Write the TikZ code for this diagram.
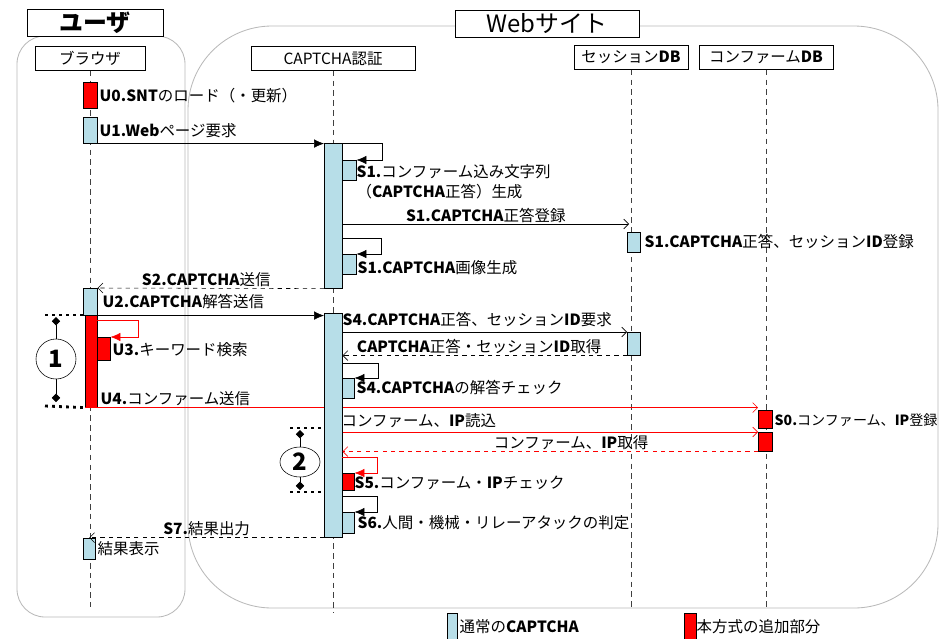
\documentclass[tikz,border=0pt]{standalone}
\usepackage{fontspec}
\setmainfont{Noto Sans CJK JP}
\usetikzlibrary{arrows.meta}
\usetikzlibrary{shapes.geometric}
\definecolor{capblue}{RGB}{183,222,232}

\begin{document}
\begin{tikzpicture}[x=0.025cm,y=-0.025cm,>={Latex[length=7pt,width=6pt]},
    every node/.style={font=\fontsize{11}{14}\selectfont},
    frame/.style={draw=gray!55,line width=0.6pt},
    title/.style={draw,fill=white,inner sep=0pt,minimum height=0.675cm,font=\fontsize{17}{20}\selectfont},
    head/.style={draw,fill=white,inner sep=0pt,minimum height=0.6cm},
    life/.style={dash pattern=on 4pt off 3pt,black!75},
    bar/.style={draw,fill=capblue,anchor=north west,inner sep=0pt,minimum width=0.35cm},
    addbar/.style={bar,fill=red},
    lbl/.style={anchor=west,inner sep=1pt},
    async/.style={-{Straight Barb[length=3.5pt,width=7pt]}},
    ret/.style={async,dashed},
    dotline/.style={line width=2pt,dash pattern=on 2pt off 3pt},
    tick/.style={{Diamond[length=6pt,width=6pt]}-},
    num/.style={draw,fill=white,inner sep=0pt,font=\fontsize{17}{20}\selectfont\bfseries}]
    \useasboundingbox (0,0) rectangle (951,638);

    % frames
    \draw[frame,rounded corners=0.7cm] (17,36) rectangle (185,617);
    \draw[frame,rounded corners=2.1cm] (188,26) rectangle (938,608);
    \node[title,minimum width=3.4cm,font=\fontsize{17}{20}\selectfont\bfseries] (user) at (95,22.5) {ユーザ};
    \node[title,minimum width=4.6cm] (site) at (547,23.5) {Webサイト};

    % lifelines
    \node[head,minimum width=2.75cm] (browser) at (90,58.5) {ブラウザ};
    \node[head,minimum width=4.1cm] (auth) at (333,58.5) {CAPTCHA認証};
    \node[head,minimum width=2.85cm] (sessdb) at (631,57.5) {セッション\textbf{DB}};
    \node[head,minimum width=3.35cm] (confdb) at (766,57.5) {コンファーム\textbf{DB}};
    \draw[life] (browser.south) -- ++(0,536);
    \draw[life] (auth.south) -- ++(0,542);
    \draw[life] (sessdb.south) -- ++(0,537);
    \draw[life] (confdb.south) -- ++(0,537);

    % browser side
    \node[addbar,minimum height=0.65cm] (u0) at (83,82) {};
    \node[lbl] (lu0) at (98,96) {\textbf{U0.SNT}のロード（・更新）};
    \node[bar,minimum height=0.65cm] (u1) at (83,117) {};
    \node[lbl] (lu1) at (98,131) {\textbf{U1.Web}ページ要求};
    \node[bar,minimum height=0.675cm] (u2) at (83,288) {};
    \node[lbl] (lu2) at (101,302) {\textbf{U2.CAPTCHA}解答送信};
    \node[addbar,minimum width=0.3cm,minimum height=2.3cm] (u3) at (85,315) {};
    \node[addbar,minimum width=0.325cm,minimum height=0.575cm] (u3s) at (97,337) {};
    \node[lbl] (lu3) at (111,350) {\textbf{U3.}キーワード検索};
    \node[lbl] (lu4) at (99,399) {\textbf{U4.}コンファーム送信};
    \node[bar,minimum width=0.3cm,minimum height=0.525cm] (res) at (83,538) {};
    \node[lbl] (lres) at (96,549) {結果表示};

    % DB side
    \node[bar,minimum width=0.325cm,minimum height=0.5cm] (d1) at (627,232) {};
    \node[lbl] (ld1) at (643,242) {\textbf{S1.CAPTCHA}正答、セッション\textbf{ID}登録};
    \node[bar,minimum width=0.325cm,minimum height=0.575cm] (d2) at (627,332) {};
    \node[addbar,minimum height=0.45cm] (c1) at (758,410) {};
    \node[lbl,font=\fontsize{10}{12}\selectfont] (lc1) at (773,420) {\textbf{S0.}コンファーム、\textbf{IP}登録};
    \node[addbar,minimum height=0.475cm] (c2) at (758,432) {};

    % U4 runs behind the auth bar
    \draw[async,red] (u3.south west) -- (u3.south west -| c1.west);
    \draw[red,->] (u3s.north west) ++(0,-17) -- ++(41,0) |- (u3s.north east);

    % auth side
    \node[bar,minimum width=0.45cm,minimum height=3.625cm] (a1) at (324,143) {};
    \node[bar,minimum height=0.5cm] (s1a) at (342,160) {};
    \node[lbl,align=left] (ls1a) at (355,182) {\textbf{S1.}コンファーム込み文字列\\（\textbf{CAPTCHA}正答）生成};
    \node[bar,minimum height=0.5cm] (s1b) at (342,254) {};
    \node[lbl] (ls1b) at (356,268) {\textbf{S1.CAPTCHA}画像生成};
    \node[bar,minimum width=0.45cm,minimum height=5.6cm] (a2) at (324,313) {};
    \node[lbl] (ls4r) at (341,320) {\textbf{S4.CAPTCHA}正答、セッション\textbf{ID}要求};
    \node[bar,minimum width=0.3cm,minimum height=0.5cm] (s4) at (342,378) {};
    \node[lbl] (ls4c) at (355,388) {\textbf{S4.CAPTCHA}の解答チェック};
    \node[lbl] (lipr) at (340,421) {コンファーム、\textbf{IP}読込};
    \node[addbar,minimum width=0.3cm,minimum height=0.425cm] (s5) at (342,473) {};
    \node[lbl] (ls5) at (353,483) {\textbf{S5.}コンファーム・\textbf{IP}チェック};
    \node[bar,minimum width=0.3cm,minimum height=0.525cm] (s6) at (342,512) {};
    \node[lbl] (ls6) at (356,523) {\textbf{S6.}人間・機械・リレーアタックの判定};

    % messages
    \coordinate (r1) at (629,224);
    \draw[->] (u1.south east) -- (u1.south east -| a1.west);
    \draw[->] (a1.north east) -- ++(40,0) |- (s1a.north east);
    \draw[async] (a1.east |- r1) -- (r1) node[midway,above,inner sep=1pt] (ls1r) {\textbf{S1.CAPTCHA}正答登録};
    \draw[->] (s1b.north west) ++(0,-16) -- ++(39,0) |- (s1b.north east);
    \draw[ret] (a1.south west) -- (u2.north east) node[pos=0.52,above,inner sep=1pt] (ls2) {\textbf{S2.CAPTCHA}送信};
    \draw[->] (u2.south east) -- (u2.south east -| a2.west);
    \draw[async] (a2.east |- d2.north west) -- (d2.north west);
    \draw[ret] (d2.south west) -- (d2.south west -| a2.east) node[pos=0.52,above,inner sep=1pt] (ls4g) {\textbf{CAPTCHA}正答・セッション\textbf{ID}取得};
    \draw[->] (s4.north west) ++(0,-15) -- ++(36,0) |- (s4.north east);
    \draw[async,red] (a2.east |- c2.north west) -- (c2.north west);
    \draw[ret,red] (c2.south west) -- (c2.south west -| a2.east) node[pos=0.45,above,inner sep=1pt,black] (lipg) {コンファーム、\textbf{IP}取得};
    \draw[->,red] (s5.north west) ++(0,-16) -- ++(35,0) |- (s5.north east);
    \draw[->] (s6.north west) ++(0,-16) -- ++(35,0) |- (s6.north east);
    \draw[ret] (a2.south west) -- (a2.south west -| res.north) node[pos=0.5,above,inner sep=1pt] (ls7) {\textbf{S7.}結果出力};

    % (1) and (2)
    \coordinate (t1a) at (45,315);
    \coordinate (t1b) at (45,406);
    \draw[dotline] (t1a) -- (u3.north west);
    \draw[dotline] (t1b) -- (u3.south west);
    \node[num,circle,minimum size=1cm] (n1) at (56,359) {1};
    \draw[tick] (56,317) -- (n1.north);
    \draw[tick] (56,402) -- (n1.south);
    \coordinate (t2a) at (290,428);
    \coordinate (t2b) at (290,492);
    \draw[dotline] (t2a) -- (t2a -| a2.west);
    \draw[dotline] (t2b) -- (t2b -| a2.west);
    \node[num,ellipse,minimum width=1cm,minimum height=0.75cm] (n2) at (300,462) {2};
    \draw[tick] (300,430) -- (n2.north);
    \draw[tick] (300,490) -- (n2.south);

    % legend
    \node[bar,minimum width=0.25cm,minimum height=0.75cm] (lega) at (447,613) {};
    \node[lbl] (llega) at (458,627) {通常の\textbf{CAPTCHA}};
    \node[addbar,minimum width=0.3cm,minimum height=0.75cm] (legb) at (684,613) {};
    \node[lbl] (llegb) at (695,627) {本方式の追加部分};
\end{tikzpicture}
\end{document}
